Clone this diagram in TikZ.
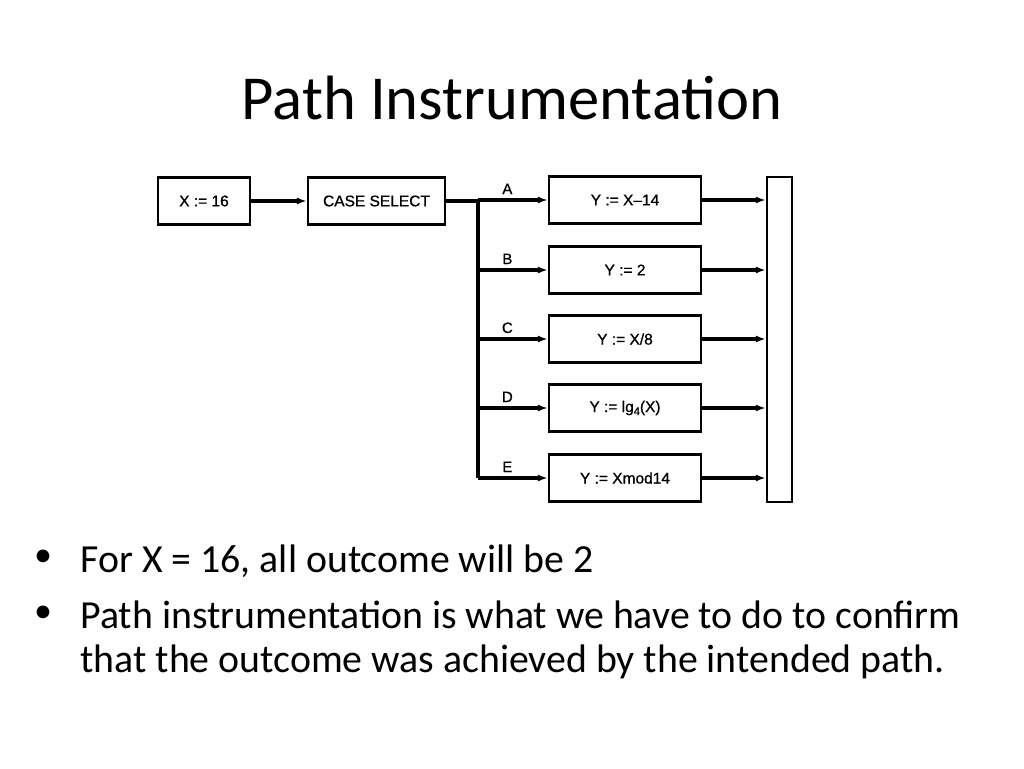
\documentclass[tikz,border=0pt]{standalone}
\usepackage{fontspec}
\setmainfont{Carlito}
\newfontfamily\diagfont{Liberation Sans}[FakeBold=0.8]
\usetikzlibrary{arrows.meta, positioning}

\newcommand{\indice}[1]{\raisebox{-3pt}{\fontsize{11}{12}\selectfont #1}}

\tikzset{
    caixa/.style={draw, line width=2.2pt, inner sep=0pt, minimum height=47pt,
        font=\diagfont\fontsize{15.5}{18}\selectfont},
    seta/.style={line width=3.2pt, -{Latex[length=10pt,width=7pt]}},
    linha/.style={line width=3.2pt},
    rotulo/.style={font=\diagfont\fontsize{15}{18}\selectfont, anchor=south},
    texto/.style={anchor=base west, font=\fontsize{39.8}{44}\selectfont},
    bala/.style={anchor=base, font=\fontsize{36}{40}\selectfont}
}

\begin{document}
\begin{tikzpicture}[x=1pt, y=-1pt]
    \useasboundingbox[fill=white] (0,0) rectangle (1024,768);
    % Titulo
    \node[font=\fontsize{62.6}{70}\selectfont] (titulo) at (512,98) {Path Instrumentation};
    % Caixas de entrada
    \node[caixa, minimum width=92pt] (x16) at (204,201) {X := 16};
    \node[caixa, minimum width=137pt] (case) at (376.5,201) {CASE SELECT};
    \draw[seta] (x16) -- (case);
    % Barra de saida
    \node[caixa, minimum width=25pt, minimum height=325pt] (barra) at (779.5,339.5) {};
    % Ramos
    \coordinate (topo) at (478,201);
    \draw[linha] (case.east) -- (topo);
    \foreach \nome/\y/\txt in {A/200/{Y := X–14}, B/270/{Y := 2}, C/339/{Y := X/8},
        D/408/{Y := lg\indice{4}(X)}, E/478/{Y := Xmod14}} {
        \node[caixa, minimum width=152pt] (ramo\nome) at (625,\y) {\txt};
        \coordinate (bus\nome) at (478,\y);
        \draw[seta] (bus\nome) -- node[rotulo, pos=0.42, yshift=1pt] {\nome} (ramo\nome.west);
        \draw[seta] (ramo\nome.east) -- (ramo\nome.east -| barra.west);
    }
    \draw[linha] (topo) -- (busE);
    % Texto
    \node[texto] (item1) at (77,572) {For X = 16, all outcome will be 2};
    \node[texto] (item2) at (77,628) {Path instrumentation is what we have to do to confirm};
    \node[texto] (item2b) at (77,672) {that the outcome was achieved by the intended path.};
    \node[bala] (bala1) at (43,566) {•};
    \node[bala] (bala2) at (43,622) {•};
\end{tikzpicture}
\end{document}
